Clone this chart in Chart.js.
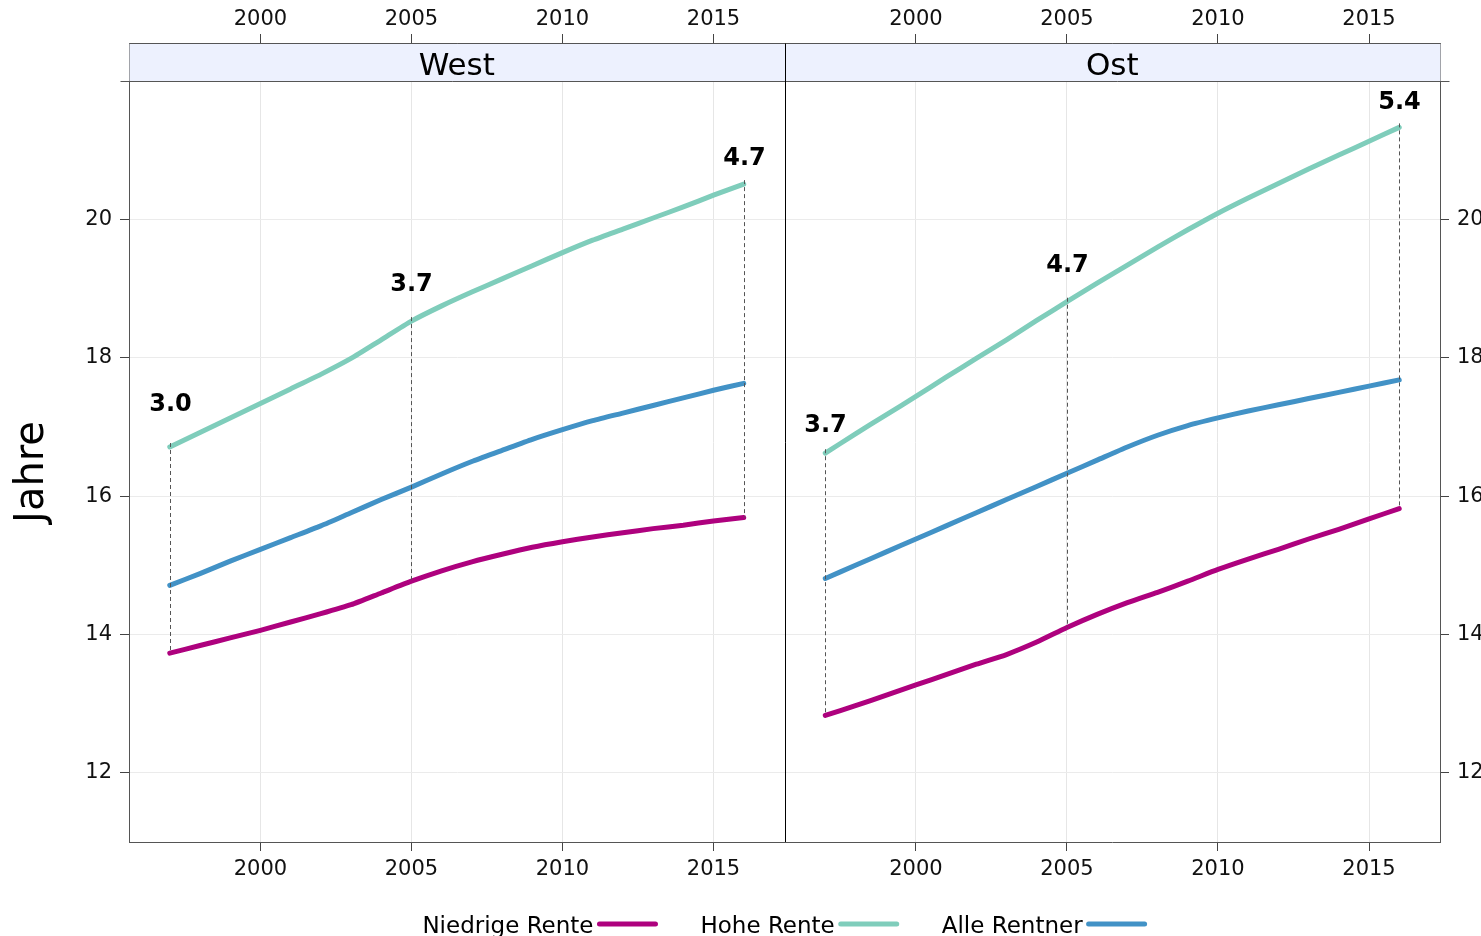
<!DOCTYPE html>
<html>
<head>
<meta charset="utf-8">
<title>Rentenbezugsdauer West / Ost</title>
<script src="https://cdn.jsdelivr.net/npm/chart.js@4.4.1/dist/chart.umd.min.js"></script>
<style>
    html, body { margin: 0; padding: 0; background: #fff; overflow: hidden; }
    #wrap { width: 1481px; height: 936px; overflow: hidden; }
    canvas { display: block; width: 1520px; height: 936px; }
</style>
</head>
<body>
<div id="wrap"><canvas id="rentChart" width="1520" height="936"></canvas></div>
<script>
const years = [1997, 1998, 1999, 2000, 2001, 2002, 2003, 2004, 2005, 2006,
               2007, 2008, 2009, 2010, 2011, 2012, 2013, 2014, 2015, 2016];

const westNiedrig = [13.73, 13.84, 13.95, 14.06, 14.18, 14.30, 14.43, 14.60, 14.77, 14.92,
                     15.05, 15.16, 15.26, 15.34, 15.41, 15.47, 15.53, 15.58, 15.64, 15.69];
const westHoch    = [16.71, 16.92, 17.13, 17.34, 17.55, 17.76, 17.99, 18.26, 18.53, 18.75,
                     18.95, 19.14, 19.33, 19.52, 19.70, 19.86, 20.02, 20.18, 20.35, 20.51];
const westAlle    = [14.71, 14.88, 15.06, 15.23, 15.40, 15.57, 15.76, 15.95, 16.13, 16.32,
                     16.50, 16.66, 16.82, 16.96, 17.09, 17.20, 17.31, 17.42, 17.53, 17.63];

const ostNiedrig = [12.83, 12.97, 13.12, 13.27, 13.42, 13.57, 13.71, 13.89, 14.10, 14.29,
                    14.46, 14.61, 14.77, 14.94, 15.09, 15.23, 15.38, 15.52, 15.67, 15.82];
const ostHoch    = [16.62, 16.90, 17.17, 17.44, 17.72, 17.99, 18.26, 18.54, 18.81, 19.08,
                    19.34, 19.60, 19.85, 20.09, 20.31, 20.52, 20.73, 20.93, 21.13, 21.33];
const ostAlle    = [14.81, 15.00, 15.19, 15.38, 15.57, 15.76, 15.95, 16.14, 16.33, 16.52,
                    16.71, 16.88, 17.02, 17.13, 17.23, 17.32, 17.41, 17.50, 17.59, 17.68];

// years with a dashed gap marker, and the gap printed above it
const markYears = [1997, 2005, 2016];
const westGap = ['3.0', '3.7', '4.7'];
const ostGap  = ['3.7', '4.7', '5.4'];

const xTicks = [2000, 2005, 2010, 2015];
const yTicks = [12, 14, 16, 18, 20];
const panelNames = ['West', 'Ost'];
const seriesNames = ['Niedrige Rente', 'Hohe Rente', 'Alle Rentner'];
const seriesColors = ['#ae017e', '#7fcdbb', '#4292c6'];

const FONT = 'DejaVu Sans';

function toPoints(values) {
    return years.map((yr, i) => ({ x: yr, y: values[i] }));
}

function lineSet(label, values, color, xId) {
    return {
        label: label,
        data: toPoints(values),
        borderColor: color,
        backgroundColor: color,
        borderWidth: 5,
        borderCapStyle: 'round',
        borderJoinStyle: 'round',
        pointRadius: 0,
        tension: 0.2,
        xAxisID: xId,
        yAxisID: 'y'
    };
}

function xAxis(position, weight, onArea) {
    return {
        type: 'linear',
        axis: 'x',
        position: position,
        stack: 'panels-' + position,
        stackWeight: 1,
        weight: weight,
        min: 1995.65,
        max: 2017.35,
        afterBuildTicks: axis => { axis.ticks = xTicks.map(v => ({ value: v })); },
        afterFit: axis => { axis.height = position === 'top' ? 43 : 40; },
        grid: { drawOnChartArea: onArea, color: '#e6e6e6', tickColor: '#444', tickLength: 9 },
        border: { color: '#555', width: 1 },
        ticks: {
            color: '#111',
            font: { family: FONT, size: 21 },
            padding: position === 'top' ? 2 : 6,
            maxRotation: 0,
            autoSkip: false,
            callback: v => String(v)
        }
    };
}

function yAxis(position, onArea) {
    return {
        type: 'linear',
        axis: 'y',
        position: position,
        min: 11,
        max: 22.55,
        afterBuildTicks: axis => { axis.ticks = yTicks.map(v => ({ value: v })); },
        afterFit: axis => { axis.width = position === 'left' ? 129 : 80; },
        grid: { drawOnChartArea: onArea, color: '#ebebeb', tickColor: '#444', tickLength: 9 },
        border: { color: '#555', width: 1 },
        ticks: {
            color: '#111',
            font: { family: FONT, size: 21 },
            padding: 8,
            callback: v => String(v)
        }
    };
}

const panels = [
    { name: panelNames[0], xId: 'xW', hoch: westHoch, niedrig: westNiedrig, gaps: westGap, lift: [42, 36, 25] },
    { name: panelNames[1], xId: 'xO', hoch: ostHoch, niedrig: ostNiedrig, gaps: ostGap, lift: [27, 36, 25] }
];

// strip headers, divider, gap markers, y title and legend
const panelDecor = {
    id: 'panelDecor',
    afterDatasetsDraw(chart) {
        const { ctx, chartArea, scales } = chart;
        const yS = scales.y;
        const stripBottom = Math.round(yS.getPixelForValue(22)) + 0.5;
        const top = chartArea.top + 0.5;
        const left = chartArea.left + 0.5;
        const right = chartArea.right + 0.5;
        const mid = Math.round(scales.xW.right) + 0.5;

        ctx.save();

        // gap markers
        panels.forEach(p => {
            const xs = scales[p.xId];
            markYears.forEach((yr, k) => {
                const i = years.indexOf(yr);
                const px = Math.round(xs.getPixelForValue(yr)) + 0.5;
                const yTop = yS.getPixelForValue(p.hoch[i]);
                const yBot = yS.getPixelForValue(p.niedrig[i]);
                ctx.setLineDash([4, 3]);
                ctx.strokeStyle = '#555';
                ctx.lineWidth = 1;
                ctx.beginPath();
                ctx.moveTo(px, yTop - 4);
                ctx.lineTo(px, yBot);
                ctx.stroke();
                ctx.setLineDash([]);
                ctx.fillStyle = '#000';
                ctx.font = 'bold 24px ' + FONT;
                ctx.textAlign = 'center';
                ctx.textBaseline = 'middle';
                ctx.fillText(p.gaps[k], px, yTop - p.lift[k]);
            });
        });

        // strip
        ctx.fillStyle = '#edf1fe';
        ctx.fillRect(left, top, right - left, stripBottom - top);
        ctx.strokeStyle = '#555';
        ctx.lineWidth = 1;
        ctx.beginPath();
        ctx.moveTo(left - 9, stripBottom);
        ctx.lineTo(right + 9, stripBottom);
        ctx.moveTo(left, top);
        ctx.lineTo(right, top);
        ctx.stroke();

        ctx.fillStyle = '#000';
        ctx.font = '31px ' + FONT;
        ctx.textAlign = 'center';
        ctx.textBaseline = 'alphabetic';
        panels.forEach(p => {
            const xs = scales[p.xId];
            ctx.fillText(p.name, (xs.left + xs.right) / 2, stripBottom - 7);
        });

        // divider between the panels
        ctx.strokeStyle = '#000';
        ctx.beginPath();
        ctx.moveTo(mid, top);
        ctx.lineTo(mid, chartArea.bottom);
        ctx.stroke();

        // y title
        ctx.save();
        ctx.translate(43, 472);
        ctx.rotate(-Math.PI / 2);
        ctx.font = '40px ' + FONT;
        ctx.textAlign = 'center';
        ctx.textBaseline = 'alphabetic';
        ctx.fillStyle = '#000';
        ctx.fillText('Jahre', 0, 0);
        ctx.restore();

        // legend: text first, line swatch after it
        ctx.font = '23px ' + FONT;
        ctx.textAlign = 'left';
        ctx.textBaseline = 'alphabetic';
        const sw = 60, gapIn = 4, gapOut = 43;
        const widths = seriesNames.map(n => ctx.measureText(n).width);
        const total = widths.reduce((a, w) => a + w + gapIn + sw, 0) + gapOut * (seriesNames.length - 1);
        let lx = (chartArea.left + chartArea.right) / 2 - total / 2;
        const base = 933;
        seriesNames.forEach((n, i) => {
            ctx.fillStyle = '#000';
            ctx.fillText(n, lx, base);
            lx += widths[i] + gapIn;
            ctx.strokeStyle = seriesColors[i];
            ctx.lineWidth = 5;
            ctx.lineCap = 'round';
            ctx.beginPath();
            ctx.moveTo(lx + 2, 924);
            ctx.lineTo(lx + sw - 2, 924);
            ctx.stroke();
            lx += sw + gapOut;
        });

        ctx.restore();
    }
};

const datasets = [];
panels.forEach(p => {
    const isWest = p.xId === 'xW';
    datasets.push(lineSet(seriesNames[0], isWest ? westNiedrig : ostNiedrig, seriesColors[0], p.xId));
    datasets.push(lineSet(seriesNames[1], isWest ? westHoch : ostHoch, seriesColors[1], p.xId));
    datasets.push(lineSet(seriesNames[2], isWest ? westAlle : ostAlle, seriesColors[2], p.xId));
});

const ctx = document.getElementById('rentChart').getContext('2d');
const chart = new Chart(ctx, {
    type: 'line',
    data: { datasets: datasets },
    options: {
        responsive: false,
        animation: false,
        devicePixelRatio: 1,
        layout: { padding: { left: 0, right: 0, top: 0, bottom: 54 } },
        plugins: {
            legend: { display: false },
            tooltip: { enabled: false }
        },
        scales: {
            xW: xAxis('bottom', 1, true),
            xO: xAxis('bottom', 2, true),
            xWt: xAxis('top', 2, false),
            xOt: xAxis('top', 1, false),
            y: yAxis('left', true),
            y2: yAxis('right', false)
        }
    },
    plugins: [panelDecor]
});
</script>
</body>
</html>
